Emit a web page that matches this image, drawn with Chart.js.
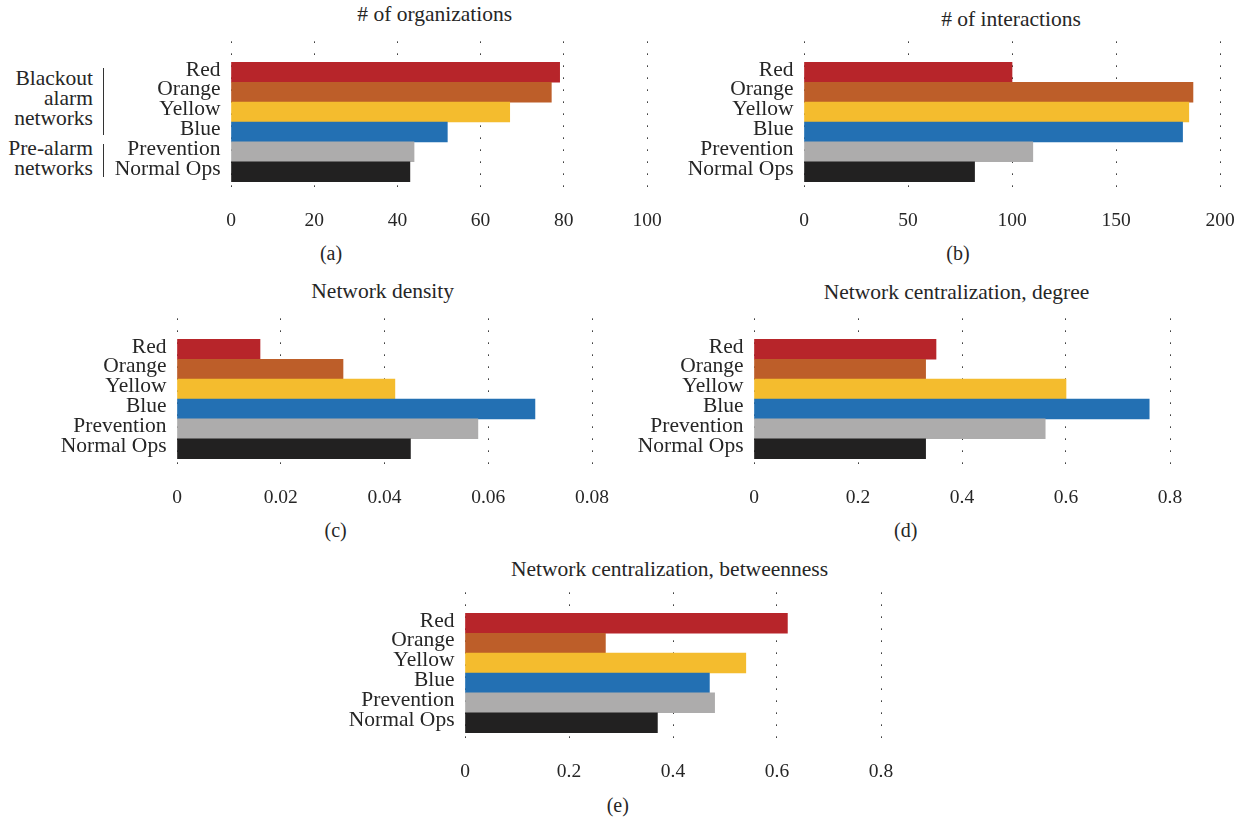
<!DOCTYPE html>
<html><head><meta charset="utf-8">
<script src="https://cdn.jsdelivr.net/npm/chart.js@4.4.1/dist/chart.umd.min.js"></script>
<style>
html,body{margin:0;padding:0;background:#fff;}
body{width:1242px;height:818px;position:relative;overflow:hidden;font-family:"Liberation Serif","DejaVu Serif",serif;color:#262626;}
canvas{position:absolute;}
.t{position:absolute;white-space:nowrap;transform:translateX(-50%);font-size:21.5px;line-height:24px;}
.s{position:absolute;white-space:nowrap;transform:translateX(-50%);font-size:20px;line-height:24px;}
.g{position:absolute;left:0;width:93px;text-align:right;font-size:21.5px;line-height:20px;}
.v{position:absolute;left:103px;width:1.3px;background:#333;}
</style></head><body>
<div class="g" style="top:67.7px">Blackout<br>alarm<br>networks</div>
<div class="g" style="top:137.7px">Pre-alarm<br>networks</div>
<div class="v" style="top:68px;height:67px"></div>
<div class="v" style="top:144px;height:33px"></div>
<script>
// ---- data ----
const categories = ['Red', 'Orange', 'Yellow', 'Blue', 'Prevention', 'Normal Ops'];
const barColors = ['#B7252A', '#BD5E29', '#F4BC2E', '#2370B3', '#ADACAC', '#222121'];
const organizations = [79, 77, 67, 52, 44, 43];
const interactions = [100, 187, 185, 182, 110, 82];
const density = [0.016, 0.032, 0.042, 0.069, 0.058, 0.045];
const centralizationDegree = [0.35, 0.33, 0.60, 0.76, 0.56, 0.33];
const centralizationBetweenness = [0.62, 0.27, 0.54, 0.47, 0.48, 0.37];
const panelTitles = ['# of organizations', '# of interactions', 'Network density', 'Network centralization, degree', 'Network centralization, betweenness'];
const panelLetters = ['(a)', '(b)', '(c)', '(d)', '(e)'];
const axisMax = [100, 200, 0.08, 0.8, 0.8];
const axisStep = [20, 50, 0.02, 0.2, 0.2];

// ---- layout ----
const FONT = '"Liberation Serif", "DejaVu Serif", serif';
const TEXT = '#262626';
const GRID = 'rgba(30,30,30,0.95)';
const Y_W = 125, PAD_T = 20, PAD_R = 34, AREA_H = 157, X_H = 45;
const Y_MIN = -1.559, Y_MAX = 6.175;
const layout = [
  {left: 231, top: 38, width: 416, titleX: 434.7, titleB: 21, subX: 331, subB: 260},
  {left: 804, top: 38, width: 416, titleX: 1011, titleB: 26.5, subX: 958, subB: 260},
  {left: 177, top: 315, width: 415, titleX: 382.7, titleB: 298.5, subX: 335.7, subB: 536.5},
  {left: 754, top: 315, width: 416, titleX: 956.5, titleB: 299.5, subX: 905.7, subB: 536.5},
  {left: 465, top: 589, width: 416, titleX: 669.5, titleB: 576, subX: 617.8, subB: 811.5}
];
const series = [organizations, interactions, density, centralizationDegree, centralizationBetweenness];

function addText(cls, txt, x, top) {
  const d = document.createElement('div');
  d.className = cls; d.textContent = txt;
  d.style.left = x + 'px'; d.style.top = top + 'px';
  document.body.appendChild(d);
}

series.forEach((values, k) => {
  const p = layout[k];
  addText('t', panelTitles[k], p.titleX, p.titleB - 19.26);
  addText('s', panelLetters[k], p.subX, p.subB - 18.75);
  const canvas = document.createElement('canvas');
  const W = Y_W + p.width + PAD_R, H = PAD_T + AREA_H + X_H;
  canvas.width = W; canvas.height = H;
  canvas.style.width = W + 'px'; canvas.style.height = H + 'px';
  canvas.style.left = (p.left - Y_W) + 'px';
  canvas.style.top = (p.top - PAD_T) + 'px';
  document.body.appendChild(canvas);
  new Chart(canvas, {
    type: 'bar',
    data: {
      datasets: [{
        data: values.map((v, i) => ({x: v, y: i})),
        backgroundColor: barColors,
        borderWidth: 0,
        categoryPercentage: 1,
        barPercentage: 1
      }]
    },
    options: {
      indexAxis: 'y',
      responsive: false,
      animation: false,
      devicePixelRatio: 1,
      layout: {padding: {top: PAD_T, right: PAD_R, left: 0, bottom: 0}},
      plugins: {legend: {display: false}, tooltip: {enabled: false}},
      scales: {
        x: {
          type: 'linear', position: 'bottom', min: 0, max: axisMax[k], offset: false,
          ticks: {stepSize: axisStep[k], padding: 14.5, autoSkip: false, maxRotation: 0, color: TEXT, font: {family: FONT, size: 19.5}},
          grid: {color: GRID, lineWidth: 1, drawTicks: false, offset: false, borderDash: [1.5, 10.5]},
          border: {display: false, dash: [1.5, 10.5]},
          afterFit(s) { s.height = X_H; }
        },
        y: {
          type: 'linear', reverse: true, min: Y_MIN, max: Y_MAX, offset: false,
          afterBuildTicks(s) { s.ticks = categories.map((c, i) => ({value: i})); },
          ticks: {autoSkip: false, padding: 10.5, labelOffset: -2.5, color: TEXT, font: {family: FONT, size: 21.5}, callback: (v) => categories[v]},
          grid: {display: false, drawTicks: false, offset: false},
          border: {display: false},
          afterFit(s) { s.width = Y_W; }
        }
      }
    }
  });
});
</script>
</body></html>
